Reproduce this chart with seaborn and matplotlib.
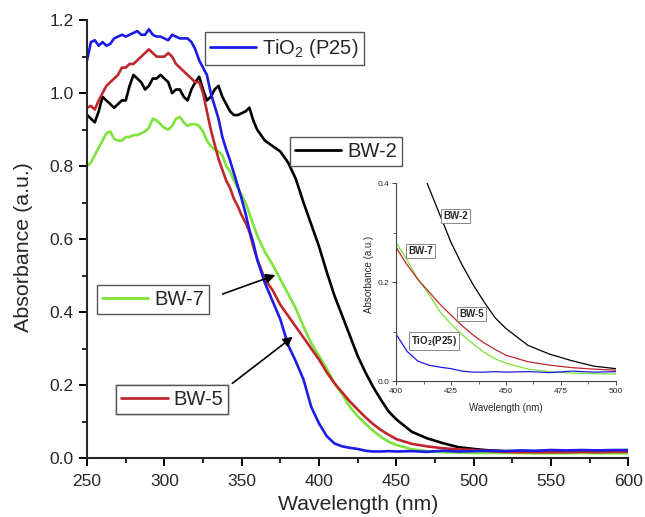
import matplotlib
matplotlib.use("Agg")
import matplotlib.pyplot as plt
from matplotlib.lines import Line2D
from matplotlib.ticker import MultipleLocator
import pandas as pd
import seaborn as sns

# ---------------- data ----------------
wavelength = [250, 252.5, 255, 257.5, 260, 262.5, 265, 267.5, 270, 272.5,
              275, 277.5, 280, 282.5, 285, 287.5, 290, 292.5, 295, 297.5,
              300, 302.5, 305, 307.5, 310, 312.5, 315, 317.5, 320, 322.5,
              325, 327.5, 330, 332.5, 335, 337.5, 340, 342.5, 345, 347.5,
              350, 352.5, 355, 357.5, 360,
              365, 370, 375, 380, 385, 390, 395, 400, 405, 410, 415, 420, 425, 430,
              435, 440, 445, 450,
              460, 470, 480, 490, 500, 510, 520, 530, 540, 550, 560, 570, 580, 590, 600]

tio2 = [1.09, 1.14, 1.145, 1.13, 1.14, 1.13, 1.135, 1.15, 1.155, 1.16,
        1.155, 1.16, 1.165, 1.17, 1.16, 1.16, 1.175, 1.16, 1.155, 1.155,
        1.15, 1.145, 1.16, 1.155, 1.15, 1.15, 1.15, 1.14, 1.12, 1.09,
        1.07, 1.05, 1.00, 0.965, 0.93, 0.88, 0.845, 0.815, 0.78, 0.745,
        0.71, 0.67, 0.625, 0.59, 0.545,
        0.48, 0.43, 0.38, 0.31, 0.265, 0.215, 0.14, 0.095, 0.06, 0.04, 0.032, 0.028, 0.025, 0.020,
        0.018, 0.018, 0.019, 0.018,
        0.019, 0.017, 0.020, 0.018, 0.019, 0.020, 0.019, 0.021, 0.020, 0.022, 0.021, 0.022, 0.021, 0.022, 0.022]

bw5 = [0.96, 0.965, 0.955, 0.98, 1.00, 1.02, 1.03, 1.04, 1.05, 1.07,
       1.07, 1.08, 1.08, 1.09, 1.10, 1.11, 1.12, 1.11, 1.10, 1.10,
       1.10, 1.11, 1.10, 1.08, 1.07, 1.06, 1.05, 1.04, 1.03, 1.03,
       1.00, 0.95, 0.90, 0.86, 0.82, 0.79, 0.76, 0.74, 0.71, 0.69,
       0.665, 0.645, 0.62, 0.58, 0.545,
       0.49, 0.46, 0.42, 0.39, 0.36, 0.33, 0.30, 0.27, 0.235, 0.205, 0.18, 0.155, 0.133, 0.112,
       0.093, 0.077, 0.064, 0.052,
       0.039, 0.032, 0.027, 0.024, 0.022, 0.019, 0.017, 0.016, 0.016, 0.016, 0.016, 0.017, 0.016, 0.017, 0.017]

bw7 = [0.80, 0.81, 0.83, 0.85, 0.87, 0.89, 0.895, 0.875, 0.87, 0.87,
       0.88, 0.88, 0.885, 0.885, 0.89, 0.895, 0.905, 0.93, 0.925, 0.915,
       0.905, 0.90, 0.91, 0.93, 0.935, 0.92, 0.91, 0.915, 0.915, 0.91,
       0.895, 0.87, 0.855, 0.845, 0.84, 0.83, 0.80, 0.785, 0.76, 0.74,
       0.72, 0.70, 0.67, 0.64, 0.61,
       0.565, 0.53, 0.49, 0.45, 0.41, 0.36, 0.315, 0.28, 0.245, 0.205, 0.175, 0.14, 0.115, 0.094,
       0.075, 0.058, 0.045, 0.036,
       0.024, 0.019, 0.016, 0.015, 0.014, 0.014, 0.014, 0.014, 0.013, 0.013, 0.013, 0.014, 0.013, 0.013, 0.013]

bw2 = [0.94, 0.93, 0.92, 0.95, 0.99, 0.98, 0.97, 0.96, 0.97, 0.98,
       0.98, 1.02, 1.05, 1.04, 1.03, 1.01, 1.02, 1.04, 1.04, 1.05,
       1.04, 1.03, 1.00, 1.01, 1.01, 0.99, 0.98, 1.01, 1.03, 1.045,
       1.01, 0.98, 0.99, 1.01, 1.02, 0.99, 0.97, 0.95, 0.94, 0.94,
       0.945, 0.95, 0.96, 0.925, 0.90,
       0.87, 0.855, 0.84, 0.81, 0.765, 0.70, 0.64, 0.58, 0.51, 0.445, 0.39, 0.335, 0.28, 0.235,
       0.195, 0.16, 0.128, 0.106,
       0.072, 0.054, 0.041, 0.030, 0.025, 0.021, 0.019, 0.018, 0.018, 0.017, 0.017, 0.016, 0.016, 0.016, 0.016]

series_names = ["BW-2", "BW-7", "BW-5", "TiO2 (P25)"]
series_values = [bw2, bw7, bw5, tio2]
colors = {"BW-2": "#000000", "BW-7": "#7ee33b", "BW-5": "#c0272d", "TiO2 (P25)": "#1c1ce6"}
legend_labels = {"BW-2": "BW-2", "BW-7": "BW-7", "BW-5": "BW-5", "TiO2 (P25)": r"TiO$_\mathregular{2}$ (P25)"}
inset_labels = {"BW-2": "BW-2", "BW-7": "BW-7", "BW-5": "BW-5", "TiO2 (P25)": r"TiO$_\mathregular{2}$(P25)"}

rows = []
for name, vals in zip(series_names, series_values):
    for w, v in zip(wavelength, vals):
        rows.append({"Wavelength": w, "Absorbance": v, "Sample": name})
df = pd.DataFrame(rows)

# ---------------- style ----------------
sns.set_style("ticks")
plt.rcParams["font.family"] = ["Liberation Sans", "DejaVu Sans"]
plt.rcParams["mathtext.fontset"] = "custom"
plt.rcParams["mathtext.rm"] = "Liberation Sans"
plt.rcParams["mathtext.it"] = "Liberation Sans:italic"
plt.rcParams["mathtext.bf"] = "Liberation Sans:bold"

fig = plt.figure(figsize=(6.45, 5.17), dpi=100)
ax = fig.add_axes([0.135, 0.114, 0.839, 0.847])

sns.lineplot(data=df, x="Wavelength", y="Absorbance", hue="Sample",
             hue_order=series_names, palette=colors, linewidth=1.9,
             estimator=None, sort=False, legend=False, ax=ax)

ax.set_xlim(250, 600)
ax.set_ylim(0, 1.2)
ax.xaxis.set_major_locator(MultipleLocator(50))
ax.xaxis.set_minor_locator(MultipleLocator(25))
ax.yaxis.set_major_locator(MultipleLocator(0.2))
ax.yaxis.set_minor_locator(MultipleLocator(0.1))
ax.yaxis.set_major_formatter(plt.FormatStrFormatter("%.1f"))
for s in ["top", "right"]:
    ax.spines[s].set_visible(False)
for s in ["left", "bottom"]:
    ax.spines[s].set_linewidth(1.5)
ax.tick_params(which="major", length=6, width=1.4, labelsize=12.5, direction="out", color="black")
ax.tick_params(axis="x", which="major", pad=5.5)
ax.tick_params(which="minor", length=3.5, width=1.2, direction="out", color="black")
ax.set_xlabel("Wavelength (nm)", fontsize=15.2, labelpad=4)
ax.set_ylabel("Absorbance (a.u.)", fontsize=15.4)
ax.yaxis.set_label_coords(-0.10, 0.482)

# boxed line-sample labels
def box_legend(name, anchor):
    h = Line2D([], [], color=colors[name], lw=2)
    leg = ax.legend([h], [legend_labels[name]], loc="upper left", bbox_to_anchor=anchor,
                    bbox_transform=ax.transAxes, frameon=True, fancybox=False,
                    edgecolor="#555555", framealpha=1, fontsize=14.5,
                    handlelength=2.3, handletextpad=0.3, borderpad=0.25, borderaxespad=0)
    leg.get_frame().set_linewidth(1.0)
    ax.add_artist(leg)

box_legend("TiO2 (P25)", (0.218, 0.973))
box_legend("BW-2", (0.375, 0.733))
box_legend("BW-7", (0.018, 0.395))
box_legend("BW-5", (0.054, 0.167))

ax.annotate("", xy=(373.5, 0.504), xytext=(336, 0.447),
            arrowprops=dict(arrowstyle="-|>", color="black", lw=1.2, mutation_scale=14))
ax.annotate("", xy=(384.5, 0.337), xytext=(342.5, 0.20),
            arrowprops=dict(arrowstyle="-|>", color="black", lw=1.2, mutation_scale=14))

# ---------------- inset ----------------
axi = fig.add_axes([0.614, 0.263, 0.341, 0.383])
sns.lineplot(data=df, x="Wavelength", y="Absorbance", hue="Sample",
             hue_order=series_names, palette=colors, linewidth=0.9,
             estimator=None, sort=False, legend=False, ax=axi)
axi.set_xlim(400, 500)
axi.set_ylim(0, 0.4)
axi.xaxis.set_major_locator(MultipleLocator(25))
axi.xaxis.set_minor_locator(MultipleLocator(12.5))
axi.yaxis.set_major_locator(MultipleLocator(0.2))
axi.yaxis.set_minor_locator(MultipleLocator(0.1))
axi.yaxis.set_major_formatter(plt.FormatStrFormatter("%.1f"))
for s in ["top", "right"]:
    axi.spines[s].set_visible(False)
for s in ["left", "bottom"]:
    axi.spines[s].set_linewidth(0.8)
    axi.spines[s].set_color("#444444")
axi.tick_params(which="major", length=3, width=0.7, labelsize=6, pad=2, color="#444444")
axi.tick_params(which="minor", length=2, width=0.6, color="#444444")
axi.set_xlabel("Wavelength (nm)", fontsize=7, labelpad=6)
axi.set_ylabel("Absorbance (a.u.)", fontsize=7)
axi.yaxis.set_label_coords(-0.10, 0.54)
axi.patch.set_alpha(0)

box = dict(boxstyle="square,pad=0.2", fc="white", ec="#888888", lw=0.7)
axi.text(421.5, 0.333, inset_labels["BW-2"], fontsize=7, fontweight="bold", va="center", bbox=box)
axi.text(405.5, 0.262, inset_labels["BW-7"], fontsize=7, fontweight="bold", va="center", bbox=box)
axi.text(428.7, 0.135, inset_labels["BW-5"], fontsize=7, fontweight="bold", va="center", bbox=box)
axi.text(407.0, 0.080, inset_labels["TiO2 (P25)"], fontsize=7, fontweight="bold", va="center", bbox=box)

fig.savefig("out.png", dpi=100)
